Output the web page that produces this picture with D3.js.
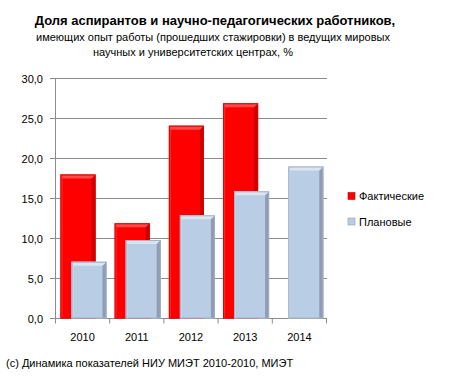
<!DOCTYPE html>
<html><head><meta charset="utf-8">
<script src="https://cdn.jsdelivr.net/npm/d3@7"></script>
<style>body{margin:0;background:#fff}svg{display:block;font-family:"Liberation Sans",Arial,sans-serif}</style>
</head><body><svg id="c" width="460" height="379"></svg>
<script>
const categories = ["2010","2011","2012","2013","2014"];
const factual = [18.0, 11.9, 24.1, 26.9, null];
const planned = [7.1, 9.8, 12.9, 15.9, 19.0];
const yTicks = [0,5,10,15,20,25,30];
const seriesNames = ["Фактические","Плановые"];
const titleText = "Доля аспирантов и научно-педагогических работников,";
const subtitle1 = "имеющих опыт работы (прошедших стажировки) в ведущих мировых";
const subtitle2 = "научных и университетских центрах, %";
const footer = "(c) Динамика показателей НИУ МИЭТ 2010-2010, МИЭТ";

const svg = d3.select("#c");
const x = d3.scaleBand().domain(categories).range([55.5, 326.5]).paddingInner(0).paddingOuter(0);
const y = d3.scaleLinear().domain([0,30]).range([318.5, 78.5]);

// gridlines
svg.append("g").selectAll("line").data(yTicks).join("line")
  .attr("x1", 50).attr("x2", 327).attr("y1", d=>y(d)).attr("y2", d=>y(d))
  .attr("stroke", "#8c8c8c").attr("stroke-width", 1);
// y axis line
svg.append("line").attr("x1",55.5).attr("x2",55.5).attr("y1",y(30)).attr("y2",y(0)).attr("stroke","#8c8c8c");
// x ticks
svg.append("g").selectAll("line").data(d3.range(categories.length+1)).join("line")
  .attr("x1", i=>55.5 + i*x.bandwidth()).attr("x2", i=>55.5 + i*x.bandwidth())
  .attr("y1", y(0)).attr("y2", y(0)+5).attr("stroke","#8c8c8c");

// y labels
const fmt = d => d.toFixed(1).replace(".", ",");
svg.append("g").selectAll("text").data(yTicks).join("text")
  .attr("x", 43).attr("y", d=>y(d)+4).attr("text-anchor","end")
  .attr("font-size", 11).attr("fill","#000").text(fmt);
// x labels
svg.append("g").selectAll("text").data(categories).join("text")
  .attr("x", d=>x(d)+x.bandwidth()/2).attr("y", 341).attr("text-anchor","middle")
  .attr("font-size", 11).attr("fill","#000").text(d=>d);

const barW = 35;
function drawBars(vals, offset, col) {
  const g = svg.append("g");
  vals.forEach((v,i) => {
    if (v == null) return;
    const x0 = x(categories[i]) + offset, x1 = x0 + barW;
    const yt = y(v), yb = y(0);
    const b = 4;
    g.append("rect").attr("x", x0).attr("y", yt).attr("width", barW).attr("height", yb-yt).attr("fill", col.main);
    g.append("polygon").attr("points", [[x0,yt],[x0+2,yt+2],[x0+2,yb],[x0,yb]].join(" ")).attr("fill", col.left);
    g.append("polygon").attr("points", [[x1,yt],[x1-b,yt+b],[x1-b,yb],[x1,yb]].join(" ")).attr("fill", col.right);
    g.append("polygon").attr("points", [[x0,yt],[x1,yt],[x1-b,yt+b],[x0+2,yt+b]].join(" ")).attr("fill", col.top);
    g.append("rect").attr("x", x0+0.5).attr("y", yt+0.5).attr("width", barW-1).attr("height", yb-yt-1)
      .attr("fill","none").attr("stroke", col.edge).attr("stroke-width",1);
  });
}
const red = {main:"#ff0000", left:"#ff2a2a", right:"#c80000", top:"#ff4a4a", edge:"#e00000"};
const blue = {main:"#b9cde5", left:"#c7d7ea", right:"#8e9db1", top:"#dbe5f1", edge:"#9fb0c6"};
drawBars(factual, 5, red);
drawBars(planned, 16, blue);

// legend
const leg = svg.append("g");
const legCols = [red.main, blue.main];
seriesNames.forEach((n,i) => {
  const ly = 196 + i*25.5;
  leg.append("rect").attr("x",348).attr("y",ly-3.5).attr("width",7).attr("height",7).attr("fill",legCols[i])
    .attr("stroke", i? "#8e9db1":"#c80000").attr("stroke-width",0.6);
  leg.append("text").attr("x",359).attr("y",ly+4).attr("font-size",11).attr("fill","#000").text(n);
});

// titles
svg.append("text").attr("x",215).attr("y",25).attr("text-anchor","middle").attr("font-size",13)
  .attr("font-weight","bold").attr("fill","#000").text(titleText);
svg.append("text").attr("x",213).attr("y",41).attr("text-anchor","middle").attr("font-size",11).attr("fill","#000").text(subtitle1);
svg.append("text").attr("x",193).attr("y",56).attr("text-anchor","middle").attr("font-size",11).attr("fill","#000").text(subtitle2);
svg.append("text").attr("x",6).attr("y",367).attr("font-size",11).attr("fill","#000").text(footer);
</script></body></html>
